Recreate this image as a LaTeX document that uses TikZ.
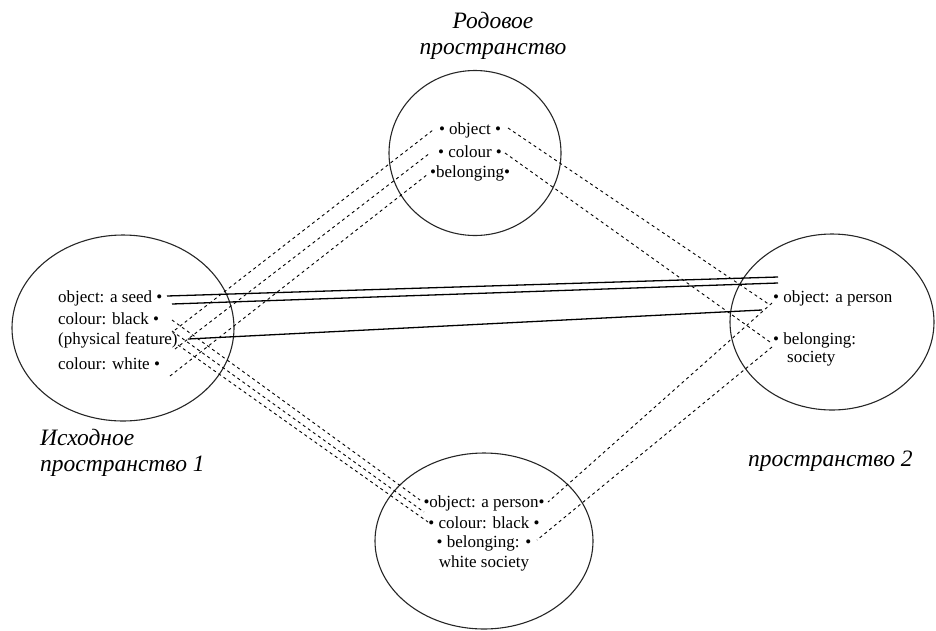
\documentclass[tikz,border=0pt]{standalone}
\usepackage{fontspec}
\setmainfont{Liberation Serif}
\usetikzlibrary{shapes.geometric}
\begin{document}
\begin{tikzpicture}[x=1pt,y=-1pt,
  space/.style={draw=black!85, line width=1.1pt, ellipse, inner sep=0pt},
  item/.style={inner sep=0pt, font=\fontsize{17}{19}\selectfont},
  lbl/.style={inner sep=0pt, font=\fontsize{23.5}{25.5}\selectfont\itshape},
  dsh/.style={line width=0.9pt, dash pattern=on 3pt off 3.2pt},
  sol/.style={line width=1.3pt}]
\useasboundingbox (0,0) rectangle (936,630);
% spaces
\node[space, minimum width=172pt, minimum height=165pt] (gen) at (475,153) {};
\node[space, minimum width=222pt, minimum height=186pt] (in1) at (123,328) {};
\node[space, minimum width=204pt, minimum height=176pt] (in2) at (832,322) {};
\node[space, minimum width=218pt, minimum height=176pt] (bl) at (484,541) {};
% labels
\node[lbl, align=center] (g) at (493,36) {Родовое\\пространство};
\node[lbl, align=left, anchor=west] (i1) at (40,453) {Исходное\\пространство 1};
\node[lbl, anchor=west] (i2) at (748,461) {пространство 2};
% generic items
\node[item] (ga) at (470,130) {• object •};
\node[item] (gb) at (470,152) {• colour •};
\node[item] (gc) at (470,173) {•belonging•};
% input 1 items
\node[item, anchor=west] (la) at (58,298) {object: a seed •};
\node[item, anchor=west] (lb) at (58,319) {colour: black •};
\node[item, anchor=west] (lc) at (58,340) {(physical feature)};
\node[item, anchor=west] (ld) at (58,364) {colour: white •};
% input 2 items
\node[item, anchor=west] (ra) at (773,298) {• object: a person};
\node[item, anchor=west] (rb) at (773,340) {• belonging:};
\node[item, anchor=west] (rc) at (787,359) {society};
% blend items
\node[item] (ba) at (484,503) {•object: a person•};
\node[item] (bb) at (484,523) {• colour: black •};
\node[item] (bc) at (484,543) {• belonging: •};
\node[item] (bd) at (484,563) {white society};
% connection points
\coordinate (s1a) at (167,296); \coordinate (s1b) at (778,277);
\coordinate (s2a) at (172,304); \coordinate (s2b) at (778,283);
\coordinate (s3a) at (188,339); \coordinate (s3b) at (762,310);
\coordinate (lt1) at (175,330); \coordinate (gt1) at (433,130);
\coordinate (lt2) at (175,349); \coordinate (gt2) at (430,153);
\coordinate (lt3) at (170,376); \coordinate (gt3) at (428,174);
\coordinate (lb1) at (172,320); \coordinate (bt1) at (420,500);
\coordinate (lb2) at (172,331); \coordinate (bt2) at (424,512);
\coordinate (lb3) at (178,345); \coordinate (bt3) at (428,522);
\coordinate (gr1) at (508,128); \coordinate (rt1) at (770,305);
\coordinate (gr2) at (505,153); \coordinate (rt2) at (770,342);
\coordinate (rb1) at (772,303); \coordinate (br1) at (548,502);
\coordinate (rb2) at (772,347); \coordinate (br2) at (537,540);
% solid links
\draw[sol] (s1a) -- (s1b);
\draw[sol] (s2a) -- (s2b);
\draw[sol] (s3a) -- (s3b);
% dashed links
\draw[dsh] (lt1) -- (gt1);
\draw[dsh] (lt2) -- (gt2);
\draw[dsh] (lt3) -- (gt3);
\draw[dsh] (lb1) -- (bt1);
\draw[dsh] (lb2) -- (bt2);
\draw[dsh] (lb3) -- (bt3);
\draw[dsh] (gr1) -- (rt1);
\draw[dsh] (gr2) -- (rt2);
\draw[dsh] (rb1) -- (br1);
\draw[dsh] (rb2) -- (br2);
\end{tikzpicture}
\end{document}
